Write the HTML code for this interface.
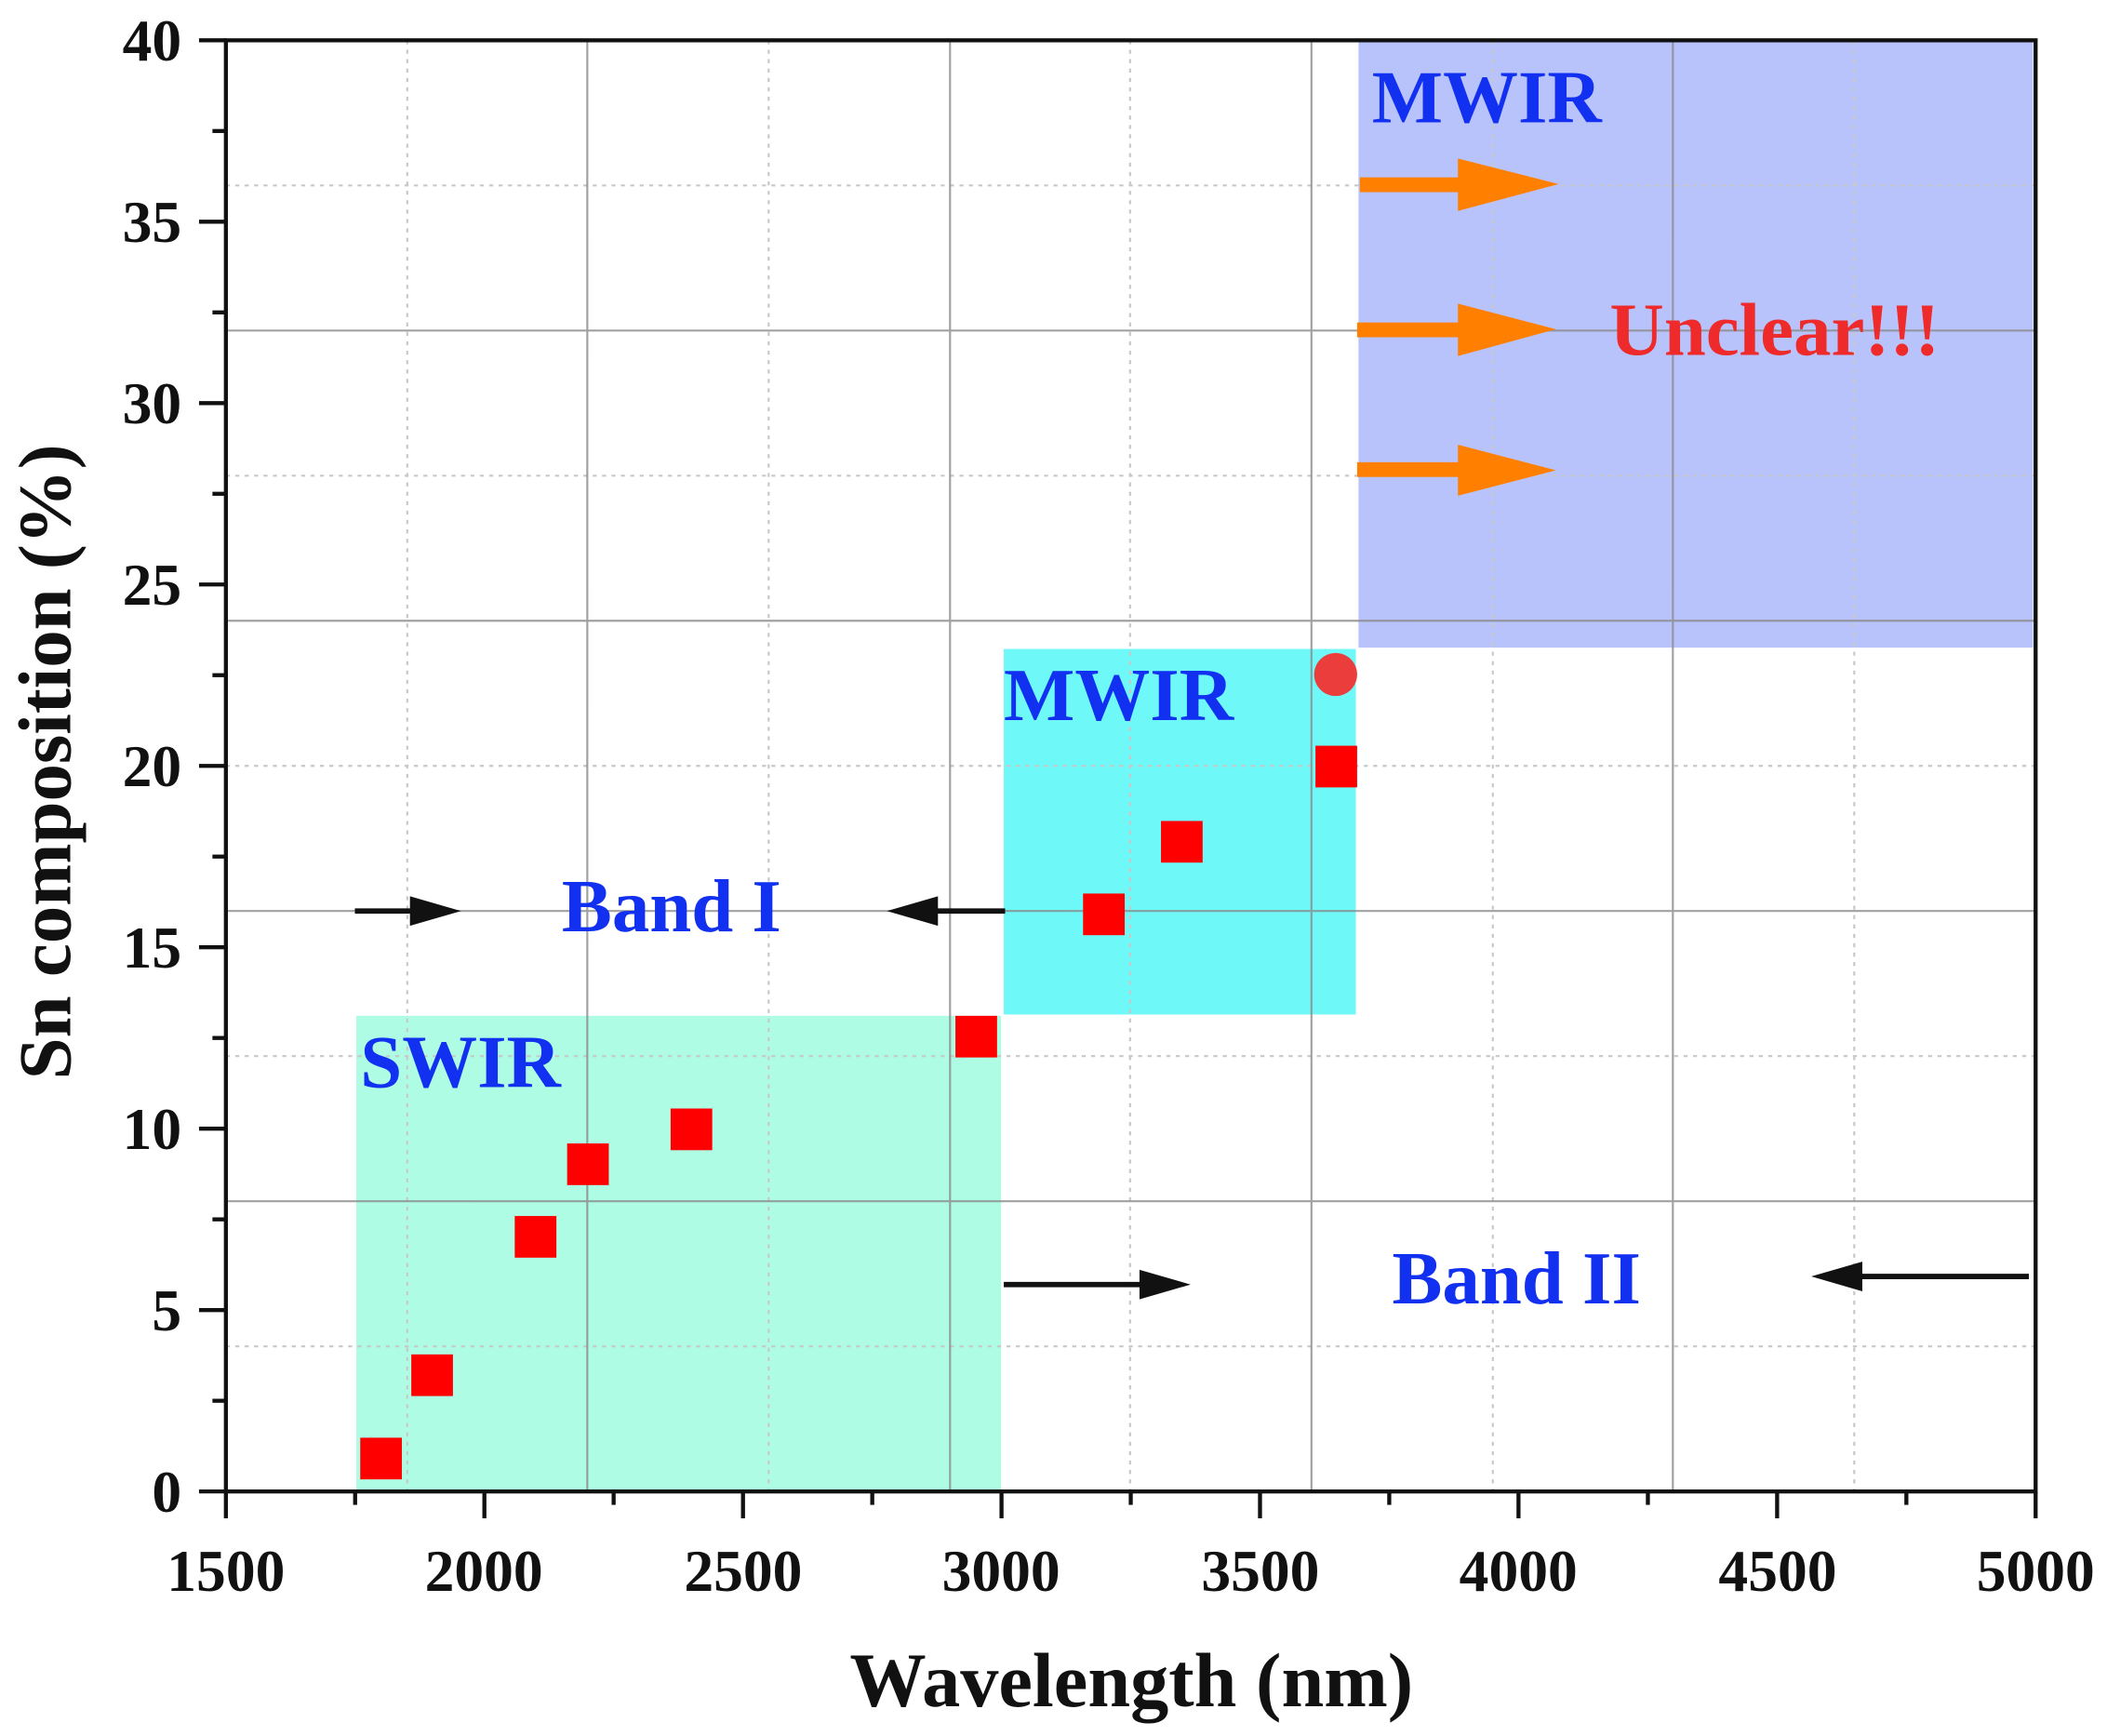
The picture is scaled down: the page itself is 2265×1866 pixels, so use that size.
<!DOCTYPE html>
<html><head><meta charset="utf-8"><style>html,body{margin:0;padding:0;background:#fff}svg{display:block}</style></head>
<body>
<svg width="2265" height="1866" viewBox="0 0 1568 1292" xmlns="http://www.w3.org/2000/svg" font-family="Liberation Serif, serif" font-weight="bold">
<rect width="1568" height="1292" fill="#fff"/>
<rect x="265" y="756" width="480" height="354" fill="#aefce3"/>
<rect x="747" y="483" width="262" height="272" fill="#6ff8f8"/>
<rect x="1011" y="30" width="502" height="452" fill="#b9c3fb"/>
<g stroke="#c8c8c8" stroke-width="1.5" stroke-dasharray="3,4" fill="none">
<line x1="303" y1="30" x2="303" y2="1110"/><line x1="572" y1="30" x2="572" y2="1110"/><line x1="841" y1="30" x2="841" y2="1110"/><line x1="1111" y1="30" x2="1111" y2="1110"/><line x1="1380" y1="30" x2="1380" y2="1110"/>
<line x1="168" y1="138" x2="1515" y2="138"/><line x1="168" y1="354" x2="1515" y2="354"/><line x1="168" y1="570" x2="1515" y2="570"/><line x1="168" y1="786" x2="1515" y2="786"/><line x1="168" y1="1002" x2="1515" y2="1002"/>
</g>
<g stroke="#8a8a8a" stroke-width="1.5" fill="none" opacity="0.8">
<line x1="437" y1="30" x2="437" y2="1110"/><line x1="707" y1="30" x2="707" y2="1110"/><line x1="976" y1="30" x2="976" y2="1110"/><line x1="1245" y1="30" x2="1245" y2="1110"/>
<line x1="168" y1="246" x2="1515" y2="246"/><line x1="168" y1="462" x2="1515" y2="462"/><line x1="168" y1="678" x2="1515" y2="678"/><line x1="168" y1="894" x2="1515" y2="894"/>
</g>
<rect x="168" y="30" width="1347" height="1080" fill="none" stroke="#111" stroke-width="3"/>
<g stroke="#111" stroke-width="3">
<line x1="148" y1="30" x2="168" y2="30"/><line x1="148" y1="165" x2="168" y2="165"/><line x1="148" y1="300" x2="168" y2="300"/><line x1="148" y1="435" x2="168" y2="435"/><line x1="148" y1="570" x2="168" y2="570"/><line x1="148" y1="705" x2="168" y2="705"/><line x1="148" y1="840" x2="168" y2="840"/><line x1="148" y1="975" x2="168" y2="975"/><line x1="148" y1="1110" x2="168" y2="1110"/>
<line x1="158" y1="97.5" x2="168" y2="97.5"/><line x1="158" y1="232.5" x2="168" y2="232.5"/><line x1="158" y1="367.5" x2="168" y2="367.5"/><line x1="158" y1="502.5" x2="168" y2="502.5"/><line x1="158" y1="637.5" x2="168" y2="637.5"/><line x1="158" y1="772.5" x2="168" y2="772.5"/><line x1="158" y1="907.5" x2="168" y2="907.5"/><line x1="158" y1="1042.5" x2="168" y2="1042.5"/>
<line x1="168" y1="1110" x2="168" y2="1130"/><line x1="360.4" y1="1110" x2="360.4" y2="1130"/><line x1="552.9" y1="1110" x2="552.9" y2="1130"/><line x1="745.3" y1="1110" x2="745.3" y2="1130"/><line x1="937.7" y1="1110" x2="937.7" y2="1130"/><line x1="1130.1" y1="1110" x2="1130.1" y2="1130"/><line x1="1322.6" y1="1110" x2="1322.6" y2="1130"/><line x1="1515" y1="1110" x2="1515" y2="1130"/>
<line x1="264.2" y1="1110" x2="264.2" y2="1120"/><line x1="456.6" y1="1110" x2="456.6" y2="1120"/><line x1="649.1" y1="1110" x2="649.1" y2="1120"/><line x1="841.5" y1="1110" x2="841.5" y2="1120"/><line x1="1033.9" y1="1110" x2="1033.9" y2="1120"/><line x1="1226.4" y1="1110" x2="1226.4" y2="1120"/><line x1="1418.8" y1="1110" x2="1418.8" y2="1120"/>
</g>
<g font-size="44" fill="#111" text-anchor="end">
<text x="135" y="45">40</text><text x="135" y="180">35</text><text x="135" y="315">30</text><text x="135" y="450">25</text><text x="135" y="585">20</text><text x="135" y="720">15</text><text x="135" y="855">10</text><text x="135" y="990">5</text><text x="135" y="1125">0</text>
</g>
<g font-size="44" fill="#111" text-anchor="middle">
<text x="168" y="1184">1500</text><text x="360" y="1184">2000</text><text x="553" y="1184">2500</text><text x="745" y="1184">3000</text><text x="938" y="1184">3500</text><text x="1130" y="1184">4000</text><text x="1323" y="1184">4500</text><text x="1515" y="1184">5000</text>
</g>
<text x="842" y="1270" font-size="57" text-anchor="middle" fill="#111">Wavelength (nm)</text>
<text transform="translate(52,567) rotate(-90)" font-size="56" text-anchor="middle" fill="#111">Sn composition (%)</text>
<g fill="#ff0000">
<rect x="268" y="1070" width="31" height="31"/><rect x="306" y="1008" width="31" height="31"/><rect x="383" y="905" width="31" height="31"/><rect x="422" y="851" width="31" height="31"/><rect x="499" y="825" width="31" height="31"/><rect x="711" y="756" width="31" height="31"/><rect x="806" y="665" width="31" height="31"/><rect x="864" y="611" width="31" height="31"/><rect x="979" y="555" width="31" height="31"/>
</g>
<circle cx="994" cy="502" r="16" fill="#ec3d3d"/>
<g fill="#1230f0" font-size="56">
<text x="268" y="809">SWIR</text>
<text x="747" y="536">MWIR</text>
<text x="1021" y="91">MWIR</text>
<text x="418" y="693">Band I</text>
<text x="1036" y="970">Band II</text>
</g>
<text x="1198" y="264" fill="#ee2a2a" font-size="56">Unclear!!!</text>
<g stroke="#111" stroke-width="4" fill="#111">
<line x1="264" y1="678" x2="315" y2="678"/><polygon points="343,678 305,667 305,689" stroke="none"/>
<line x1="748" y1="678" x2="688" y2="678"/><polygon points="660,678 698,667 698,689" stroke="none"/>
<line x1="747" y1="956" x2="858" y2="956"/><polygon points="886,956 848,945 848,967" stroke="none"/>
<line x1="1510" y1="950" x2="1376" y2="950"/><polygon points="1348,950 1386,939 1386,961" stroke="none"/>
</g>
<g fill="#ff8000">
<rect x="1012" y="132" width="80" height="11"/><polygon points="1085,118 1160,137 1085,157"/>
<rect x="1010" y="240" width="80" height="11"/><polygon points="1085,226 1158,245 1085,265"/>
<rect x="1010" y="344" width="80" height="11"/><polygon points="1085,331 1158,350 1085,369"/>
</g>
</svg>
</body></html>
